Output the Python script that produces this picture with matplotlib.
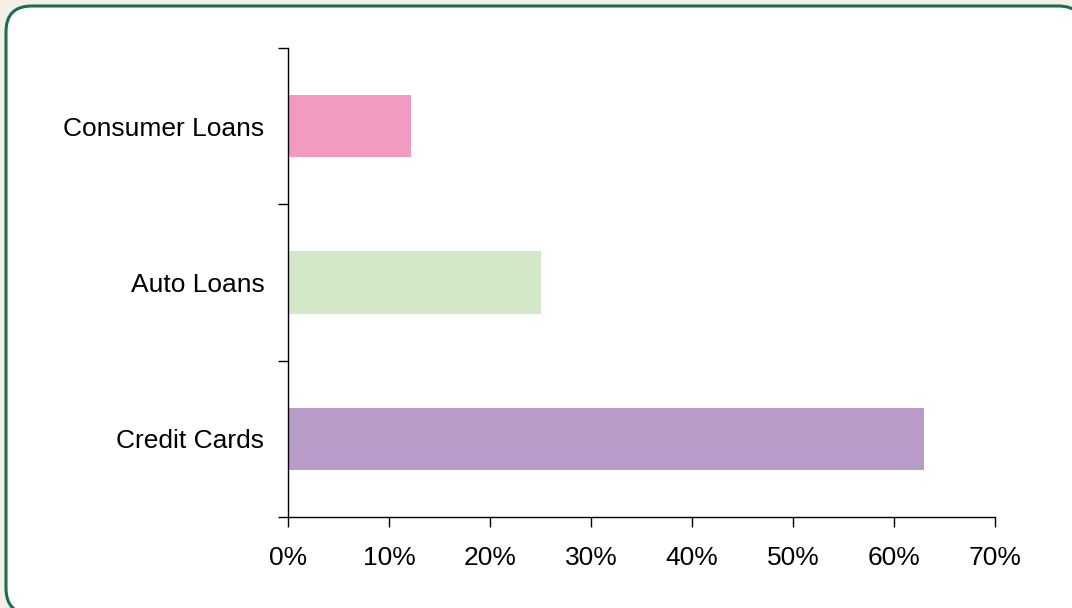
import matplotlib.pyplot as plt
import numpy as np
from matplotlib.patches import FancyBboxPatch
from matplotlib.ticker import FixedLocator, PercentFormatter

categories = ['Credit Cards', 'Auto Loans', 'Consumer Loans']
shares = [63.0, 25.0, 12.2]
bar_colors = ['#b89bc9', '#d2e8c8', '#f39ac3']

plt.rcParams['font.family'] = ['Liberation Sans', 'DejaVu Sans']

fig = plt.figure(figsize=(10.72, 6.08), dpi=100, facecolor='#f6efe6')

# rounded white panel with green border (runs off the right and bottom edges)
panel = FancyBboxPatch((6 / 1072, -6 / 608), 1078 / 1072, 608 / 608,
                       boxstyle='round,pad=0,rounding_size=0.024',
                       transform=fig.transFigure, facecolor='white',
                       edgecolor='#1b6e4c', linewidth=2.2, mutation_aspect=1072 / 608,
                       zorder=-10)
fig.patches.append(panel)

ax = fig.add_axes([288 / 1072, 1 - 517 / 608, (995 - 288) / 1072, (517 - 48) / 608])
ax.set_facecolor('none')

y = np.arange(len(categories))
ax.barh(y, shares, height=0.4, color=bar_colors)

ax.set_xlim(0, 70)
ax.set_ylim(-0.5, 2.5)
ax.set_xticks(np.arange(0, 71, 10))
ax.xaxis.set_major_formatter(PercentFormatter(decimals=0))

ax.set_yticks(y)
ax.set_yticklabels(categories)
ax.yaxis.set_minor_locator(FixedLocator([-0.5, 0.5, 1.5, 2.5]))
ax.tick_params(axis='y', which='major', length=0, pad=17, labelsize=19)
ax.tick_params(axis='y', which='minor', length=7, width=1)
ax.tick_params(axis='x', length=7, width=1, pad=14, labelsize=19)

for side in ['top', 'right']:
    ax.spines[side].set_visible(False)
for side in ['left', 'bottom']:
    ax.spines[side].set_linewidth(1)

fig.savefig('out.png', dpi=100, facecolor=fig.get_facecolor())
